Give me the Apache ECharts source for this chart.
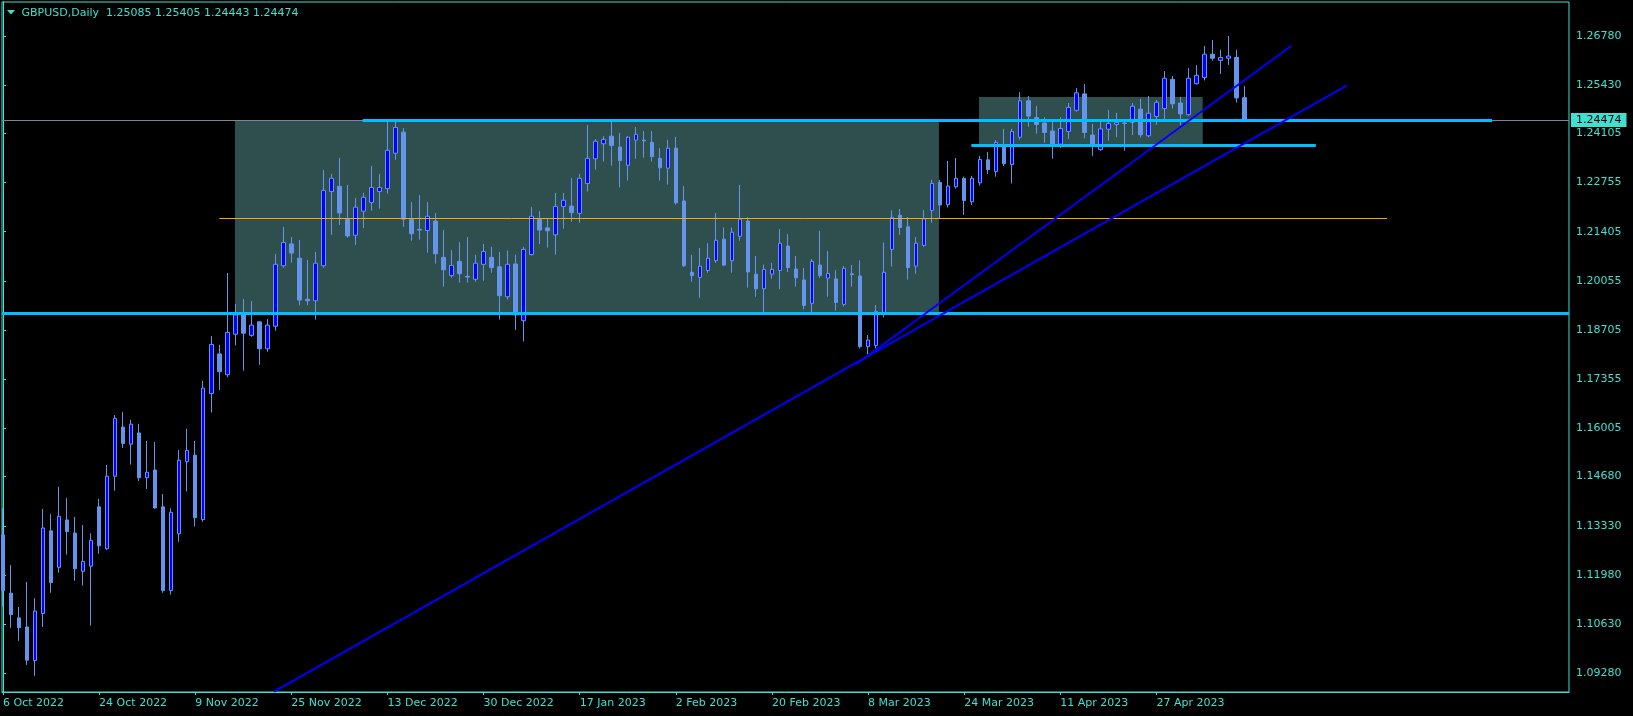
<!DOCTYPE html>
<html><head><meta charset="utf-8">
<style>html,body{margin:0;padding:0;background:#000;}#chart{width:1633px;height:716px;}</style>
<script src="https://cdn.jsdelivr.net/npm/echarts@6/dist/echarts.min.js"></script>
</head><body><div id="chart"></div>
<script>
const symbol = 'GBPUSD';
const period = 'Daily';
const dateTickIndex = [0, 12, 24, 36, 48, 60, 72, 84, 96, 108, 120, 132, 144];
const dateTickLabels = ['6 Oct 2022', '24 Oct 2022', '9 Nov 2022', '25 Nov 2022', '13 Dec 2022', '30 Dec 2022', '17 Jan 2023', '2 Feb 2023', '20 Feb 2023', '8 Mar 2023', '24 Mar 2023', '11 Apr 2023', '27 Apr 2023'];
const priceTickLabels = ['1.09280', '1.10630', '1.11980', '1.13330', '1.14680', '1.16005', '1.17355', '1.18705', '1.20055', '1.21405', '1.22755', '1.24105', '1.25430', '1.26780'];

const opens = [1.1308,1.1148,1.1080,1.1055,1.0963,1.1092,1.1319,1.1219,1.1349,1.1313,1.1208,1.1222,1.1385,1.1270,1.1469,1.1604,1.1557,1.1588,1.1465,1.1486,
1.1385,1.1155,1.1311,1.1509,1.1527,1.1350,1.1696,1.1805,1.1748,1.1859,1.1912,1.1856,1.1893,1.1819,1.1881,1.2047,1.2107,1.2068,1.1955,1.1951,
1.2047,1.2251,1.2265,1.2176,1.2131,1.2197,1.2221,1.2251,1.2259,1.2356,1.2414,1.2175,1.2147,1.2144,1.2170,1.2070,1.2020,1.2059,1.2018,1.2010,
1.2051,1.2070,1.2044,1.1962,1.2052,1.1896,1.2078,1.2176,1.2151,1.2132,1.2210,1.2211,1.2191,1.2273,1.2341,1.2382,1.2403,1.2373,1.2323,1.2392,
1.2392,1.2386,1.2342,1.2315,1.2370,1.2225,1.2029,1.2015,1.2034,1.2061,1.2120,1.2061,1.2128,1.2170,1.2024,1.1984,1.2024,1.2034,1.2101,1.2038,
1.2008,1.1944,1.2049,1.2013,1.2011,1.1941,1.2025,1.2019,1.1825,1.1828,1.1914,1.2092,1.2186,1.2154,1.2046,1.2103,1.2199,1.2276,1.2215,1.2264,
1.2287,1.2223,1.2275,1.2338,1.2306,1.2374,1.2325,1.2400,1.2500,1.2454,1.2439,1.2417,1.2381,1.2416,1.2474,1.2519,1.2406,1.2366,1.2422,1.2435,
1.2439,1.2441,1.2477,1.2404,1.2457,1.2479,1.2559,1.2494,1.2462,1.2547,1.2564,1.2628,1.2611,1.2617,1.2619,1.25085];
const highs = [1.1381,1.1225,1.1110,1.1179,1.1134,1.1379,1.1365,1.1440,1.1409,1.1357,1.1335,1.1312,1.1407,1.1500,1.1637,1.1646,1.1624,1.1613,1.1566,1.1563,
1.1420,1.1381,1.1541,1.1599,1.1566,1.1731,1.1854,1.1830,1.2027,1.1942,1.1956,1.1950,1.1895,1.1901,1.2079,1.2154,1.2126,1.2118,1.2063,1.2085,
1.2310,1.2299,1.2343,1.2269,1.2233,1.2247,1.2321,1.2299,1.2442,1.2446,1.2425,1.2222,1.2241,1.2222,1.2192,1.2145,1.2090,1.2112,1.2126,1.2077,
1.2107,1.2099,1.2085,1.2089,1.2078,1.2099,1.2208,1.2197,1.2176,1.2247,1.2247,1.2288,1.2299,1.2434,1.2395,1.2403,1.2442,1.2412,1.2403,1.2428,
1.2417,1.2417,1.2370,1.2392,1.2401,1.2266,1.2077,1.2096,1.2109,1.2192,1.2152,1.2152,1.2269,1.2180,1.2074,1.2050,1.2055,1.2148,1.2134,1.2074,
1.2041,1.2066,1.2143,1.2088,1.2035,1.2046,1.2049,1.2062,1.1857,1.1939,1.2111,1.2199,1.2203,1.2181,1.2126,1.2200,1.2283,1.2283,1.2335,1.2343,
1.2292,1.2294,1.2349,1.2360,1.2392,1.2423,1.2423,1.2524,1.2513,1.2486,1.2455,1.2443,1.2455,1.2494,1.2535,1.2546,1.2436,1.2443,1.2475,1.2467,
1.2443,1.2494,1.2505,1.2513,1.2502,1.2582,1.2568,1.2511,1.2590,1.2598,1.2651,1.2667,1.2640,1.2678,1.2640,1.25405];
const lows = [1.1111,1.1053,1.1017,1.0951,1.0921,1.1055,1.1149,1.1204,1.1254,1.1182,1.1169,1.1059,1.1256,1.1267,1.1429,1.1547,1.1501,1.1456,1.1434,1.1380,
1.1149,1.1144,1.1289,1.1427,1.1331,1.1344,1.1644,1.1706,1.1741,1.1828,1.1759,1.1852,1.1775,1.1811,1.1869,1.2042,1.2056,1.1938,1.1939,1.1899,
1.2042,1.2132,1.2159,1.2124,1.2104,1.2151,1.2198,1.2204,1.2245,1.2338,1.2154,1.2116,1.2119,1.2083,1.2053,1.1990,1.2014,1.2001,1.2001,1.2003,
1.2006,1.2028,1.1899,1.1954,1.1871,1.1839,1.2075,1.2107,1.2097,1.2078,1.2149,1.2168,1.2165,1.2251,1.2311,1.2333,1.2322,1.2262,1.2281,1.2341,
1.2344,1.2333,1.2281,1.2270,1.2215,1.2044,1.2003,1.1959,1.2028,1.2055,1.2046,1.2028,1.2116,1.1987,1.1962,1.1914,1.2012,1.1983,1.2030,1.1990,
1.1927,1.1919,1.2014,1.1962,1.1924,1.1935,1.1990,1.1820,1.1804,1.1820,1.1905,1.2045,1.2132,1.2009,1.2025,1.2099,1.2165,1.2177,1.2207,1.2259,
1.2187,1.2214,1.2267,1.2299,1.2292,1.2321,1.2273,1.2394,1.2429,1.2410,1.2385,1.2341,1.2371,1.2395,1.2470,1.2397,1.2349,1.2363,1.2391,1.2400,
1.2363,1.2406,1.2399,1.2400,1.2434,1.2449,1.2479,1.2432,1.2459,1.2545,1.2556,1.2610,1.2574,1.2598,1.2495,1.24443];
const closes = [1.1155,1.1089,1.1053,1.0964,1.1099,1.1327,1.1177,1.1359,1.1317,1.1215,1.1235,1.1293,1.1278,1.1469,1.1628,1.1559,1.1612,1.1465,1.1480,1.1382,
1.1155,1.1370,1.1513,1.1540,1.1355,1.1711,1.1831,1.1756,1.1864,1.1912,1.1862,1.1884,1.1819,1.1884,1.2051,1.2111,1.2082,1.1953,1.1951,1.2054,
1.2254,1.2287,1.2192,1.2129,1.2208,1.2235,1.2262,1.2262,1.2364,1.2427,1.2175,1.2135,1.2145,1.2183,1.2080,1.2036,1.2048,1.2025,1.2016,1.2054,
1.2086,1.2042,1.1965,1.2051,1.1912,1.2092,1.2183,1.2145,1.2143,1.2210,1.2227,1.2193,1.2287,1.2342,1.2389,1.2394,1.2377,1.2336,1.2400,1.2408,
1.2390,1.2347,1.2316,1.2370,1.2220,1.2047,1.2020,1.2046,1.2068,1.2117,1.2049,1.2139,1.2175,1.2030,1.1984,1.2037,1.2037,1.2109,1.2042,1.2014,
1.1938,1.2059,1.2020,1.2026,1.1946,1.2040,1.2023,1.1825,1.1843,1.1922,1.2029,1.2180,1.2152,1.2042,1.2109,1.2176,1.2273,1.2214,1.2266,1.2287,
1.2226,1.2287,1.2339,1.2311,1.2386,1.2327,1.2416,1.2500,1.2458,1.2435,1.2413,1.2379,1.2424,1.2482,1.2522,1.2413,1.2381,1.2423,1.2438,1.2440,
1.2438,1.2485,1.2407,1.2466,1.2496,1.2562,1.2492,1.2464,1.2562,1.2570,1.2628,1.2617,1.2619,1.2623,1.2508,1.24474];

// drawn objects, in (bar index, price) data units
const upperLevel = { price: 1.2447, from: 44.9, to: 185.9 };
const lowerLevel = { price: 1.1916 };
const innerLevel = { price: 1.2378, from: 120.9, to: 163.9 };
const midLevel = { price: 1.2177, from: 27.0, to: 172.8 };
const trendLong = [[33.83, 1.08776], [167.75, 1.25415]];
const trendShort = [[106.5, 1.17767], [160.86, 1.26511]];
const rangeBoxes = [
  [[28.96, 1.2447], [116.85, 1.1916]],
  [[121.85, 1.25105], [149.78, 1.23779]]
];

const FG = '#40E0D0';
const FONT = 'DejaVu Sans';
const X_MIN = -0.125, X_MAX = 195.51;
const priceTickValues = priceTickLabels.map(parseFloat);
const last = opens.length - 1;
const candles = opens.map((o, i) => [i, o, closes[i], lows[i], highs[i]]);
const headerText = symbol + ',' + period + '  ' +
  [opens[last], highs[last], lows[last], closes[last]].map(v => v.toFixed(5)).join(' ');

const chart = echarts.init(document.getElementById('chart'), null, { renderer: 'canvas' });
const solid = (color, width) => ({ color, width, type: 'solid' });
const seg = (a, b, style, label) => [{ coord: a, lineStyle: style, label: label || { show: false } }, { coord: b }];

chart.setOption({
  backgroundColor: '#000000',
  animation: false,
  grid: { left: 2, top: 2, right: 64, bottom: 24, show: true, borderColor: FG, borderWidth: 1, backgroundColor: 'transparent', containLabel: false, outerBoundsMode: 'none' },
  xAxis: {
    type: 'value', min: X_MIN, max: X_MAX,
    splitLine: { show: false },
    axisLine: { show: true, lineStyle: { color: FG, width: 1 } },
    axisTick: { show: true, length: 3, lineStyle: { color: FG }, customValues: dateTickIndex },
    axisLabel: {
      customValues: dateTickIndex, color: FG, fontFamily: FONT, fontSize: 11, margin: 6, align: 'left',
      formatter: v => dateTickLabels[dateTickIndex.indexOf(Math.round(v))] || ''
    }
  },
  yAxis: {
    type: 'value', position: 'right', min: 1.08765, max: 1.27714, scale: true,
    splitLine: { show: false },
    axisLine: { show: true, lineStyle: { color: FG, width: 1 } },
    axisTick: { show: true, length: 3, lineStyle: { color: FG }, customValues: priceTickValues },
    axisLabel: {
      customValues: priceTickValues, color: FG, fontFamily: FONT, fontSize: 11, margin: 7, align: 'left',
      formatter: v => {
        let best = 0;
        priceTickValues.forEach((t, k) => { if (Math.abs(t - v) < Math.abs(priceTickValues[best] - v)) best = k; });
        return priceTickLabels[best];
      }
    }
  },
  graphic: [
    { type: 'polygon', shape: { points: [[7, 10], [15, 10], [11, 14.5]] }, style: { fill: FG }, silent: true },
    { type: 'text', x: 21.5, y: 13, style: { text: headerText, fill: FG, font: '11px "DejaVu Sans"', verticalAlign: 'middle', align: 'left' }, silent: true }
  ],
  series: [
    {
      type: 'candlestick', name: symbol, data: candles, encode: { x: 0, y: [1, 2, 3, 4] },
      barWidth: 4, z: 2, silent: true,
      itemStyle: { color: '#0000FF', color0: '#6495ED', borderColor: '#6495ED', borderColor0: '#6495ED', borderColorDoji: '#6495ED', borderWidth: 1 },
      markArea: {
        silent: true, z: 1,
        itemStyle: { color: '#2F4F4F', opacity: 1, borderWidth: 0 },
        label: { show: false },
        data: rangeBoxes.map(b => [{ coord: b[0] }, { coord: b[1] }])
      }
    },
    {
      type: 'line', name: 'objects', data: [], z: 4, clip: false, silent: true,
      markLine: {
        silent: true, z: 5, symbol: ['none', 'none'], label: { show: false },
        lineStyle: { type: 'solid' },
        emphasis: { disabled: true },
        data: [
          seg([X_MIN, closes[last]], [X_MAX, closes[last]], solid('#778899', 1), {
            show: true, position: 'end', distance: 2, formatter: closes[last].toFixed(5),
            color: '#000000', backgroundColor: FG, padding: [2, 5, 1, 5], fontFamily: FONT, fontSize: 11
          }),
          seg([X_MIN, lowerLevel.price], [X_MAX, lowerLevel.price], solid('#00BFFF', 3)),
          seg([midLevel.from, midLevel.price], [midLevel.to, midLevel.price], solid('#FFA500', 1)),
          seg([upperLevel.from, upperLevel.price], [upperLevel.to, upperLevel.price], solid('#00BFFF', 3)),
          seg([innerLevel.from, innerLevel.price], [innerLevel.to, innerLevel.price], solid('#00BFFF', 3)),
          seg(trendLong[0], trendLong[1], solid('#0000FF', 2)),
          seg(trendShort[0], trendShort[1], solid('#0000FF', 2))
        ]
      }
    }
  ]
});
</script>
</body></html>
